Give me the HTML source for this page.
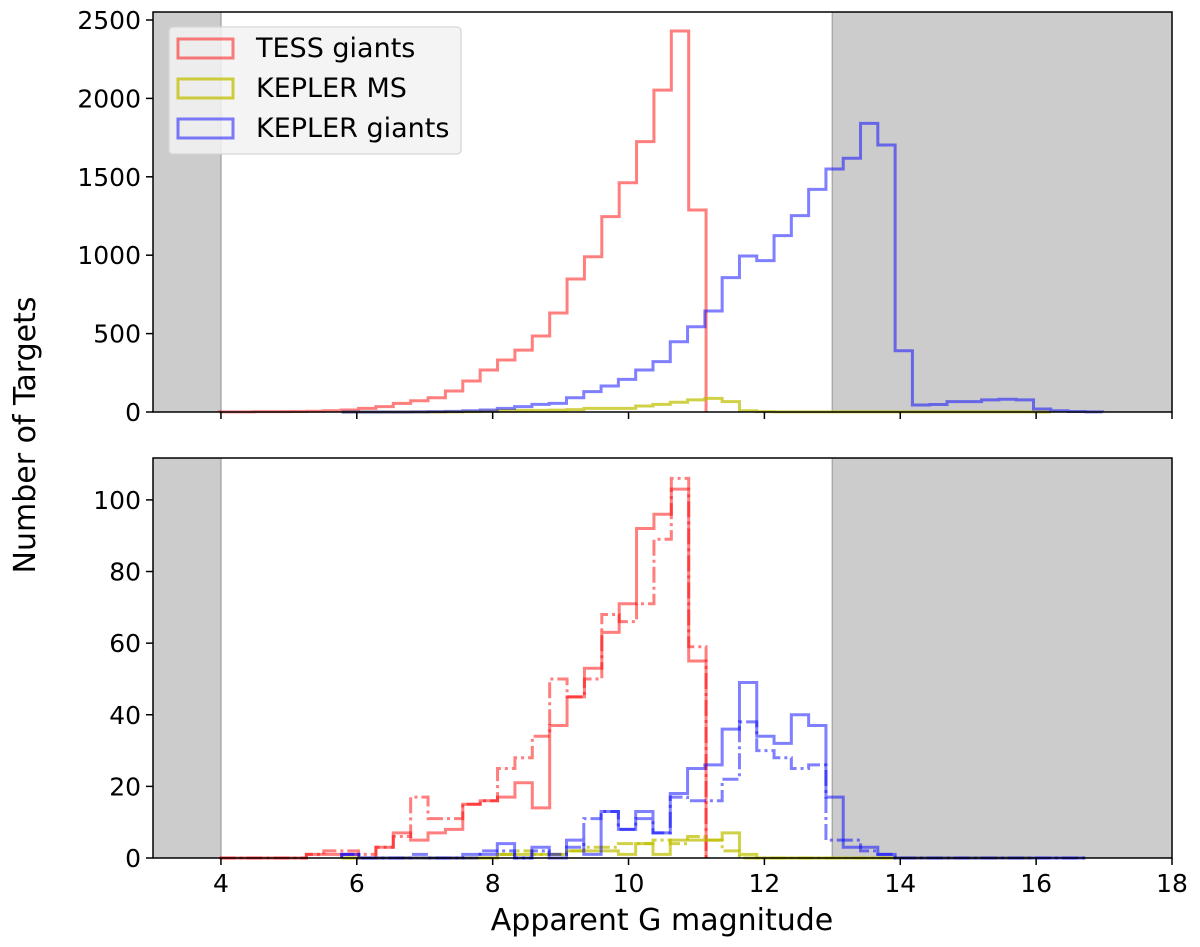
<!DOCTYPE html>
<html><head><meta charset="utf-8"><style>
body{margin:0;background:#fff;}
svg{display:block;font-family:"DejaVu Sans","Liberation Sans",sans-serif;}
</style></head><body>
<svg id="chart" width="1200" height="947" viewBox="0 0 1200 947" xmlns="http://www.w3.org/2000/svg">
<g id="top"></g>
<g id="bot"></g>
<text x="0" y="0" transform="translate(35,435) rotate(-90)" text-anchor="middle" font-size="30">Number of Targets</text>
<text x="662" y="930" text-anchor="middle" font-size="30">Apparent G magnitude</text>
<g>
<rect x="169" y="27" width="292" height="127" rx="4" fill="#f2f2f2" fill-opacity="0.85" stroke="#d6d6d6" stroke-width="1.3"/>
<rect x="178" y="39" width="55" height="19" fill="none" stroke="rgba(255,0,0,0.5)" stroke-width="3"/>
<text x="256" y="57" font-size="27">TESS giants</text>
<rect x="178" y="79" width="55" height="19" fill="none" stroke="rgba(191,191,0,0.75)" stroke-width="3"/>
<text x="256" y="97" font-size="27">KEPLER MS</text>
<rect x="178" y="119" width="55" height="19" fill="none" stroke="rgba(0,0,255,0.5)" stroke-width="3"/>
<text x="256" y="137" font-size="27">KEPLER giants</text>
</g>
</svg>
<script>
// bins
const redStart = 3.979, redWidth = 0.2558;
const kepStart = 5.777, kepWidth = 0.2546;
// top panel counts
const tessTop = [1,1,2,2,3,5,8,13,23,34,55,72,91,134,198,268,332,395,485,631,848,990,1246,1462,1724,2053,2430,1288];
const kepGiantTop = [0,0,0,0,1,2,4,8,13,23,34,49,55,91,130,166,208,268,321,448,544,644,857,995,965,1125,1252,1420,1550,1618,1841,1703,391,45,48,66,66,77,81,77,19,8,3,1];
const kepMsTop = [0,0,0,0,0,0,1,2,5,10,10,10,12,15,23,23,23,38,49,62,77,87,66,8,2,1,1,1,1,1,1,1,1,1,1,1,1,1,1,1,0];
// bottom panel counts
const tessBotSolid = [0,0,0,0,0,1,1,1,0,3,7,5,7,8,15,16,17,21,14,37,45,53,63,71,92,96,103,55];
const tessBotDash = [0,0,0,0,0,1,2,2,1,3,6,17,11,11,15,16,25,28,34,50,45,50,68,66,71,89,106,59];
const kepGiantBotSolid = [1,0,0,0,0,0,0,1,1,4,0,3,0,5,1,13,8,13,7,18,25,26,36,49,34,32,40,37,17,3,3,1,0,0,0,0,0,0,0,0,0,0,0];
const kepGiantBotDash = [1,0,0,0,1,0,0,0,2,2,0,2,1,3,11,13,8,11,7,17,16,16,22,38,30,28,25,26,5,5,2,1,0,0,0,0,0,0,0,0,0,0,0];
const kepMsBotSolid = [0,0,0,0,0,0,0,0,0,1,1,1,1,2,2,2,1,4,1,5,5,5,7,1,0,0,0,0,0,0,0,0,0,0,0,0,0,0,0,0];
const kepMsBotDash = [0,0,0,0,0,0,0,0,0,1,2,1,1,2,3,3,4,4,5,4,6,5,2,0,0,0,0,0,0,0,0,0,0,0,0,0,0,0,0,0];
const xTicks = [4,6,8,10,12,14,16,18];
const yTicksTop = [0,500,1000,1500,2000,2500];
const yTicksBot = [0,20,40,60,80,100];

const NS = "http://www.w3.org/2000/svg";
const X0 = 153, X1 = 1172, xmin = 3, xmax = 18;
const xs = v => X0 + (v - xmin) / (xmax - xmin) * (X1 - X0);
function mk(tag, attrs, parent){const e=document.createElementNS(NS,tag);for(const k in attrs)e.setAttribute(k,attrs[k]);parent.appendChild(e);return e;}

const RED="rgba(255,0,0,0.5)", YEL="rgba(191,191,0,0.72)", BLU="rgba(0,0,255,0.5)";
const DASH="16,4,3,4";

function panel(g, top, ymax, ticks, showX, series, name){
  const bot = top + 400;
  const ys = v => bot - v / ymax * 400;
  const s1 = mk('rect',{x:X0,y:top,width:xs(4)-X0,height:400,fill:'#cccccc'},g);
  
  
  const s2 = mk('rect',{x:xs(13),y:top,width:X1-xs(13),height:400,fill:'#cccccc'},g);
  
  
  mk('line',{x1:xs(4),x2:xs(4),y1:top,y2:bot,stroke:'#aaaaaa','stroke-width':1.5},g);
  mk('line',{x1:xs(13),x2:xs(13),y1:top,y2:bot,stroke:'#aaaaaa','stroke-width':1.5},g);
  series.forEach(s=>{
    let d = `M${xs(s.start)},${ys(0)}`;
    s.data.forEach((v,i)=>{
      const a = xs(s.start + i*s.w), b = xs(s.start + (i+1)*s.w);
      d += ` L${a},${ys(v)} L${b},${ys(v)}`;
    });
    d += ` L${xs(s.start + s.data.length*s.w)},${ys(0)}`;
    const p = mk('path',{d:d,fill:'none',stroke:s.c,'stroke-width':3,'stroke-linejoin':'miter'},g);
    if(s.dash) p.setAttribute('stroke-dasharray',DASH);
    
    
  });
  const fr = mk('rect',{x:X0,y:top,width:X1-X0,height:400,fill:'none',stroke:'#000','stroke-width':1.5},g);
  
  
  xTicks.forEach(t=>{
    mk('line',{x1:xs(t),x2:xs(t),y1:bot,y2:bot+7,stroke:'#000','stroke-width':1.5},g);
    if(showX){
      const tx = mk('text',{x:xs(t),y:bot+34,'text-anchor':'middle','font-size':25},g);
      tx.textContent = t;
      
      
    }
  });
  ticks.forEach(t=>{
    mk('line',{x1:X0-7,x2:X0,y1:ys(t),y2:ys(t),stroke:'#000','stroke-width':1.5},g);
    const ty = mk('text',{x:X0-12,y:ys(t)+9,'text-anchor':'end','font-size':25},g);
    ty.textContent = t;
    
    
  });
}
panel(document.getElementById('top'), 12, 2551, yTicksTop, false, [
  {data:tessTop,start:redStart,w:redWidth,c:RED,n:'tess-giants-hist'},
  {data:kepMsTop,start:kepStart,w:kepWidth,c:YEL,n:'kepler-ms-hist'},
  {data:kepGiantTop,start:kepStart,w:kepWidth,c:BLU,n:'kepler-giants-hist'}
], 'top');
panel(document.getElementById('bot'), 458, 111.7, yTicksBot, true, [
  {data:tessBotSolid,start:redStart,w:redWidth,c:RED,n:'tess-giants-solid'},
  {data:tessBotDash,start:redStart,w:redWidth,c:RED,dash:true,n:'tess-giants-dashdot'},
  {data:kepMsBotSolid,start:kepStart,w:kepWidth,c:YEL,n:'kepler-ms-solid'},
  {data:kepMsBotDash,start:kepStart,w:kepWidth,c:YEL,dash:true,n:'kepler-ms-dashdot'},
  {data:kepGiantBotSolid,start:kepStart,w:kepWidth,c:BLU,n:'kepler-giants-solid'},
  {data:kepGiantBotDash,start:kepStart,w:kepWidth,c:BLU,dash:true,n:'kepler-giants-dashdot'}
], 'bottom');
</script>
</body></html>
